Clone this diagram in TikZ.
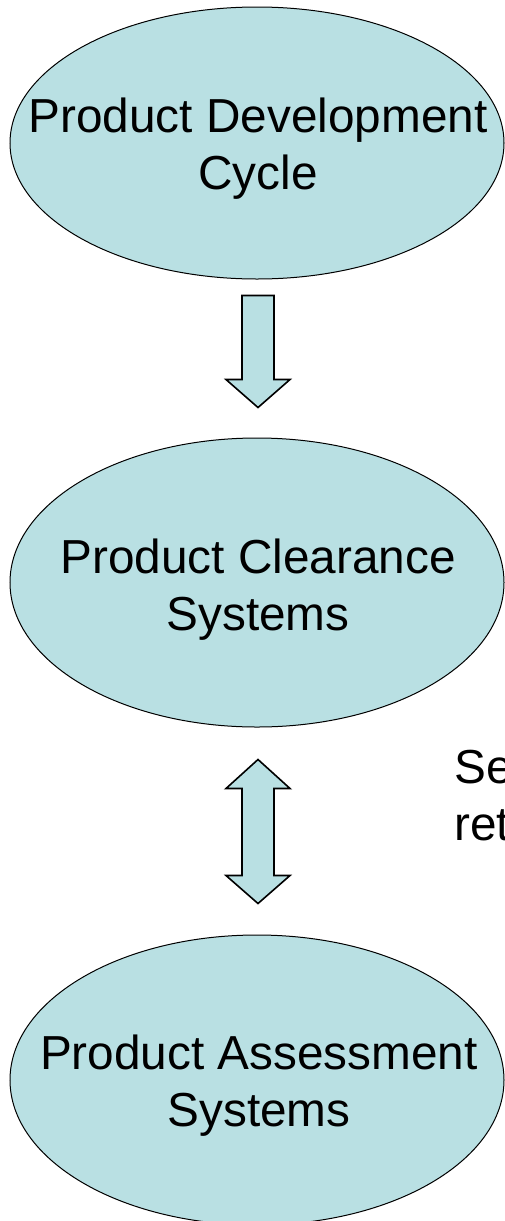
\documentclass[tikz,border=0pt]{standalone}
\usepackage{fontspec}
\setmainfont{Liberation Sans}
\usetikzlibrary{shapes.geometric}

\definecolor{bubblefill}{RGB}{185,224,227}

\tikzset{every picture/.style={line width=0.75pt}}
\tikzset{
	bubble/.style={ellipse, draw, fill=bubblefill, inner sep=0pt, minimum width=370.5pt},
	bubbletext/.style={align=center, inner sep=0pt, font=\fontsize{35.8}{42.75}\selectfont},
	blockarrow/.style={draw, fill=bubblefill, line width=1.2pt, line join=miter},
}

\begin{document}
\begin{tikzpicture}[x=0.75pt,y=0.75pt,yscale=-1,xscale=1]
	\useasboundingbox (0,0) rectangle (505,1221);

	%Shape: Ellipse [id:dev]
	\node[bubble, minimum height=204pt] (dev) at (257,143) {};
	%Shape: Ellipse [id:clear]
	\node[bubble, minimum height=216.75pt] (clear) at (257,582.5) {};
	%Shape: Ellipse [id:assess]
	\node[bubble, minimum height=217.5pt] (assess) at (257,1080) {};

	% Text Node
	\node[bubbletext] (devtext) at ([xshift=0.75pt,yshift=4.5pt]dev.center) {Product Development\\Cycle};
	% Text Node
	\node[bubbletext] (cleartext) at ([xshift=0.75pt,yshift=5.25pt]clear.center) {Product Clearance\\Systems};
	% Text Node
	\node[bubbletext] (assesstext) at ([xshift=1.5pt,yshift=4.5pt]assess.center) {Product Assessment\\Systems};

	%Shape: Down Arrow [id:down]
	\coordinate (down) at ([xshift=0.75pt,yshift=12pt]dev.south);
	\draw[blockarrow] (down) ++(-16,0) -- ++(32,0) -- ++(0,84) -- ++(16,0) -- ++(-32,28) -- ++(-32,-28) -- ++(16,0) -- cycle;

	%Shape: Up Down Arrow [id:both]
	\coordinate (both) at ([xshift=0.75pt,yshift=24pt]clear.south);
	\draw[blockarrow] (both) -- ++(32,29) -- ++(-16,0) -- ++(0,87) -- ++(16,0) -- ++(-32,28) -- ++(-32,-28) -- ++(16,0) -- ++(0,-87) -- ++(-16,0) -- cycle;

	% Text Node
	\node[bubbletext, align=left, anchor=base west] (side) at (454,840) {Se\\ret};

\end{tikzpicture}
\end{document}
